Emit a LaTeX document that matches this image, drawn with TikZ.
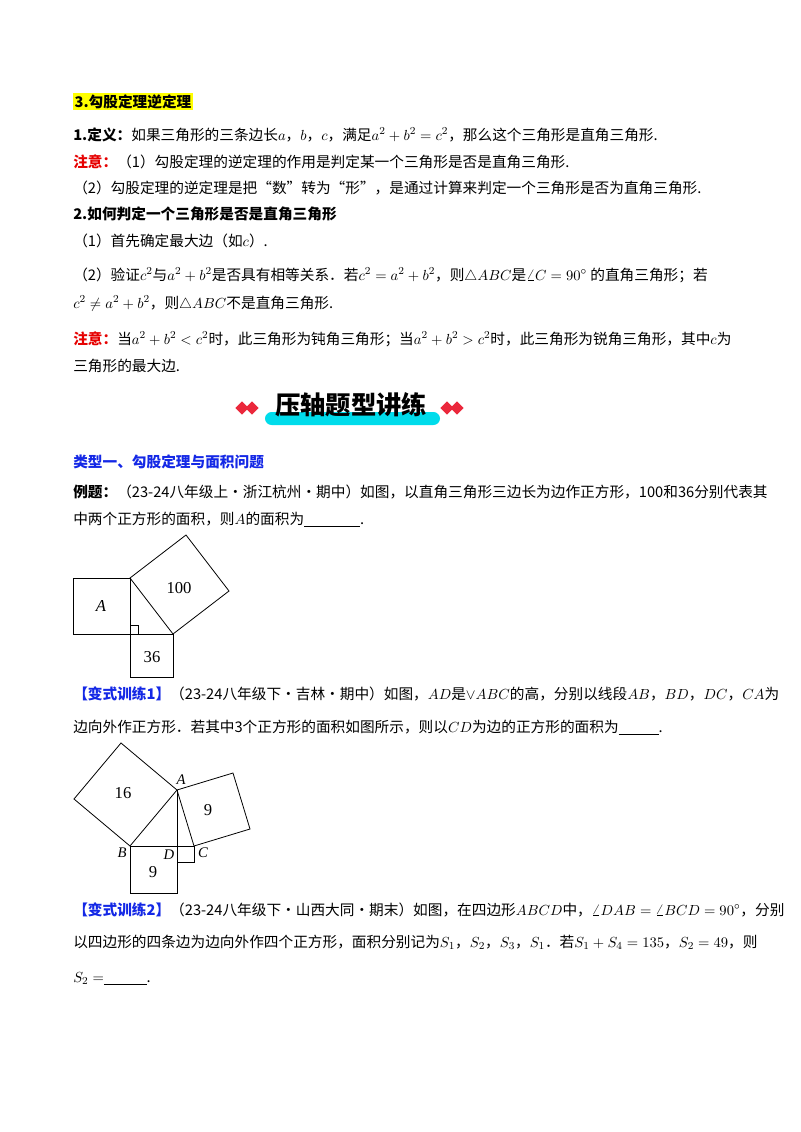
\documentclass[tikz,border=0pt]{standalone}
\usepackage{fontspec}
\setmainfont{Noto Sans CJK SC}
\newfontfamily\figfont{Liberation Serif}
\usetikzlibrary{shapes.geometric}
\definecolor{hl}{RGB}{255,255,0}
\definecolor{nred}{RGB}{230,0,0}
\definecolor{nblue}{RGB}{20,40,230}
\definecolor{bar}{RGB}{0,220,235}
\definecolor{dia}{RGB}{235,40,60}
\begin{document}
\begin{tikzpicture}[x=0.75pt,y=-0.75pt,
  tx/.style={anchor=base west,inner sep=0pt,font=\fontsize{11}{12}\selectfont},
  sq/.style={draw,line width=0.6pt},
  lab/.style={font=\fontsize{12.5}{12}\figfont},
  plab/.style={font=\fontsize{11}{11}\figfont\itshape}]
\useasboundingbox (0,0) rectangle (800,1132);
\fill[white] (0,0) rectangle (800,1132);
% header
\node[tx,fill=hl,inner sep=1pt] (h1) at (73,107) {\textbf{3.勾股定理逆定理}};
\node[tx] (l1) at (73,140) {\textbf{1.定义：}如果三角形的三条边长$a$，$b$，$c$，满足$a^2+b^2=c^2$，那么这个三角形是直角三角形.};
\node[tx] (l2) at (73,167) {\textcolor{nred}{\textbf{注意：}}（1）勾股定理的逆定理的作用是判定某一个三角形是否是直角三角形.};
\node[tx] (l3) at (73,193) {（2）勾股定理的逆定理是把“数”转为“形”，是通过计算来判定一个三角形是否为直角三角形.};
\node[tx] (l4) at (73,219) {\textbf{2.如何判定一个三角形是否是直角三角形}};
\node[tx] (l5) at (73,246) {（1）首先确定最大边（如$c$）.};
\node[tx] (l6) at (73,280) {（2）验证$c^2$与$a^2+b^2$是否具有相等关系．若$c^2=a^2+b^2$，则$\triangle ABC$是$\angle C=90^\circ$ 的直角三角形；若};
\node[tx] (l7) at (73,308) {$c^2\neq a^2+b^2$，则$\triangle ABC$不是直角三角形.};
\node[tx] (l8) at (73,344) {\textcolor{nred}{\textbf{注意：}}当$a^2+b^2<c^2$时，此三角形为钝角三角形；当$a^2+b^2>c^2$时，此三角形为锐角三角形，其中$c$为};
\node[tx] (l9) at (73,371) {三角形的最大边.};
% banner
\fill[bar,rounded corners=5pt] (265,412) rectangle (440,425);
\node[font=\fontsize{19}{20}\selectfont\bfseries,inner sep=0pt] (ban) at (351,405) {压轴题型讲练};
\foreach \x in {242,252,447,457}
  \node[diamond,fill=dia,minimum width=10pt,minimum height=10pt,inner sep=0pt] at (\x,408) {};
% type one
\node[tx] (t1) at (73,467) {\textcolor{nblue}{\textbf{类型一、勾股定理与面积问题}}};
\node[tx] (e1) at (73,497) {\textbf{例题：}（23-24八年级上·浙江杭州·期中）如图，以直角三角形三边长为边作正方形，100和36分别代表其};
\node[tx] (e2) at (73,524) {中两个正方形的面积，则$A$的面积为\underline{\hspace{42pt}}.};
% figure 1
\draw[sq] (73,578) rectangle (130,634);
\draw[sq] (130,634) rectangle (173,677);
\draw[sq] (130,578) -- (186,535) -- (229,591) -- (173,634) -- cycle;
\draw[line width=0.5pt] (130,625) -- (138,625) -- (138,634);
\node[plab,font=\fontsize{12.5}{12}\figfont\itshape] (fa) at (101,606) {A};
\node[lab] (f100) at (179,588) {100};
\node[lab] (f36) at (152,657) {36};
% variant 1
\node[tx] (v1) at (73,699) {\textcolor{nblue}{\textbf{【变式训练1】}}（23-24八年级下·吉林·期中）如图，$AD$是$\vee ABC$的高，分别以线段$AB$，$BD$，$DC$，$CA$为};
\node[tx] (v2) at (73,732) {边向外作正方形．若其中3个正方形的面积如图所示，则以$CD$为边的正方形的面积为\underline{\hspace{30pt}}.};
% figure 2
\draw[sq] (130,846) -- (177,790) -- (121,743) -- (74,799) -- cycle;
\draw[sq] (177,790) -- (233,773) -- (250,829) -- (194,846) -- cycle;
\draw[sq] (130,846) rectangle (177,893);
\draw[sq] (177,846) rectangle (194,862);
\draw[sq] (177,790) -- (177,846);
\node[lab] (g16) at (123,793) {16};
\node[lab] (g9a) at (208,810) {9};
\node[lab] (g9b) at (153,872) {9};
\node[plab] (pA) at (181,780) {A};
\node[plab] (pB) at (122,853) {B};
\node[plab] (pD) at (169,855) {D};
\node[plab] (pC) at (203,853) {C};
% variant 2
\node[tx] (w1) at (73,915) {\textcolor{nblue}{\textbf{【变式训练2】}}（23-24八年级下·山西大同·期末）如图，在四边形$ABCD$中，$\angle DAB=\angle BCD=90^\circ$，分别};
\node[tx] (w2) at (73,947) {以四边形的四条边为边向外作四个正方形，面积分别记为$S_1$，$S_2$，$S_3$，$S_1$．若$S_1+S_4=135$，$S_2=49$，则};
\node[tx] (w3) at (73,982) {$S_2=$\underline{\hspace{32pt}}.};
\end{tikzpicture}
\end{document}
